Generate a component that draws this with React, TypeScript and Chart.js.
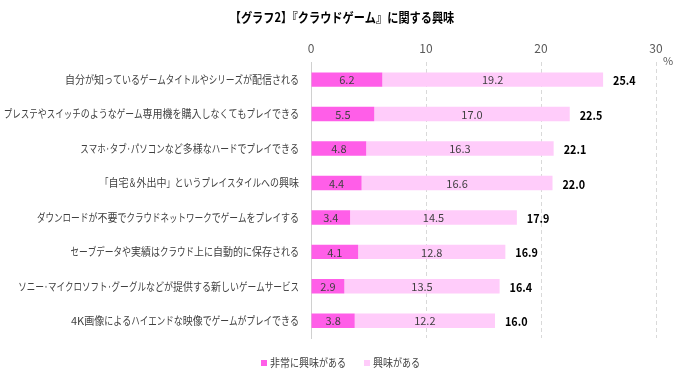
import React, { useEffect, useRef } from "react";
import { Chart, registerables } from "chart.js";

Chart.register(...registerables);

const title = "【グラフ2】『クラウドゲーム』に関する興味";
const categories = [
  "自分が知っているゲームタイトルやシリーズが配信される",
  "プレステやスイッチのようなゲーム専用機を購入しなくてもプレイできる",
  "スマホ・タブ・パソコンなど多様なハードでプレイできる",
  "「自宅＆外出中」というプレイスタイルへの興味",
  "ダウンロードが不要でクラウドネットワークでゲームをプレイする",
  "セーブデータや実績はクラウド上に自動的に保存される",
  "ソニー・マイクロソフト・グーグルなどが提供する新しいゲームサービス",
  "4K画像によるハイエンドな映像でゲームがプレイできる",
];
const veryInterested = [6.2, 5.5, 4.8, 4.4, 3.4, 4.1, 2.9, 3.8];
const interested = [19.2, 17.0, 16.3, 16.6, 14.5, 12.8, 13.5, 12.2];
const totals = ["25.4", "22.5", "22.1", "22.0", "17.9", "16.9", "16.4", "16.0"];
const seriesNames = ["非常に興味がある", "興味がある"];
const xTicks = [0, 10, 20, 30];

const DARK = "#ff5ee8";
const LIGHT = "#ffccfa";
const FONT = "'Noto Sans CJK JP', 'Noto Sans', sans-serif";

// Approximate a narrow proportional Japanese UI font by compressing glyphs per class
function classWidth(ch: string, size: number): number | null {
  const s = size / 11;
  const code = ch.codePointAt(0) || 0;
  if (ch === "ー") return 8.8 * s;
  if (ch === "・") return 4 * s;
  if ("「」『』【】＆".includes(ch)) return 8 * s;
  if (code >= 0x3040 && code <= 0x309f) return 9 * s;
  if (code >= 0x30a0 && code <= 0x30ff) return 8.5 * s;
  if (code >= 0x4e00 && code <= 0x9fff) return 10 * s;
  return null;
}

function drawCondensed(ctx: CanvasRenderingContext2D, text: string, x: number, y: number, align: "left" | "right" | "center", size: number) {
  const chars = Array.from(text);
  const widths = chars.map((ch) => {
    const natural = ctx.measureText(ch).width;
    const cw = classWidth(ch, size);
    return cw == null ? natural : Math.min(cw, natural);
  });
  const total = widths.reduce((a, b) => a + b, 0);
  let cx = align === "right" ? x - total : align === "center" ? x - total / 2 : x;
  ctx.textAlign = "left";
  chars.forEach((ch, i) => {
    ctx.fillText(ch, cx, y, widths[i]);
    cx += widths[i];
  });
}

const textPlugin = {
  id: "customTexts",
  afterDraw(chart: any) {
    const { ctx, chartArea } = chart;
    const xs = chart.scales.x;
    const ys = chart.scales.y;
    const m0 = chart.getDatasetMeta(0);
    const m1 = chart.getDatasetMeta(1);
    ctx.save();
    ctx.textBaseline = "middle";

    // title
    ctx.font = `bold 13px ${FONT}`;
    ctx.fillStyle = "#000";
    ctx.textAlign = "center";
    const tw = ctx.measureText(title).width;
    ctx.fillText(title, 342, 17, tw * 0.86);

    // percent sign
    ctx.font = `11px ${FONT}`;
    ctx.fillStyle = "#595959";
    ctx.textAlign = "left";
    ctx.fillText("%", chartArea.right + 7, 61);

    categories.forEach((cat, i) => {
      const y = ys.getPixelForValue(i);
      // category label
      ctx.font = `11px ${FONT}`;
      ctx.fillStyle = "#404040";
      drawCondensed(ctx, cat, chartArea.left - 12, y, "right", 11);

      // values inside
      ctx.textAlign = "center";
      ctx.fillStyle = "#404040";
      const b0: any = m0.data[i];
      const b1: any = m1.data[i];
      ctx.fillText(veryInterested[i].toFixed(1), (b0.x + b0.base) / 2, y + 0.5);
      ctx.fillText(interested[i].toFixed(1), (b1.x + b1.base) / 2, y + 0.5);

      // total
      ctx.font = `bold 12px ${FONT}`;
      ctx.fillStyle = "#000";
      ctx.textAlign = "left";
      const endX = xs.getPixelForValue(veryInterested[i] + interested[i]);
      const t = totals[i];
      ctx.fillText(t, endX + 10, y + 1, ctx.measureText(t).width * 0.9);
    });

    // legend
    const legendY = 363;
    const items = [
      { name: seriesNames[0], color: DARK, x: 261 },
      { name: seriesNames[1], color: LIGHT, x: 364 },
    ];
    ctx.font = `11px ${FONT}`;
    items.forEach((it) => {
      ctx.fillStyle = it.color;
      ctx.fillRect(it.x, legendY - 3, 6, 6);
      ctx.fillStyle = "#404040";
      drawCondensed(ctx, it.name, it.x + 9, legendY, "left", 11);
    });
    ctx.restore();
  },
};

export default function App() {
  const ref = useRef<HTMLCanvasElement | null>(null);
  useEffect(() => {
    if (!ref.current) return;
    const chart = new Chart(ref.current, {
      type: "bar",
      data: {
        labels: categories,
        datasets: [
          {
            label: seriesNames[0],
            data: veryInterested,
            backgroundColor: DARK,
            barPercentage: 0.42,
            categoryPercentage: 1,
          },
          {
            label: seriesNames[1],
            data: interested,
            backgroundColor: LIGHT,
            barPercentage: 0.42,
            categoryPercentage: 1,
          },
        ],
      },
      options: {
        indexAxis: "y",
        animation: false,
        responsive: false,
        devicePixelRatio: 1,
        layout: { padding: { top: 34, right: 24, bottom: 46, left: 0 } },
        plugins: {
          legend: { display: false },
          title: { display: false },
          tooltip: { enabled: false },
        },
        scales: {
          x: {
            position: "top",
            stacked: true,
            min: 0,
            max: 30,
            afterBuildTicks: (scale: any) => {
              scale.ticks = xTicks.map((v) => ({ value: v }));
            },
            ticks: {
              font: { family: FONT, size: 12 },
              color: "#595959",
              padding: 7,
            },
            grid: {
              color: "#d9d9d9",
              lineWidth: 1,
              drawTicks: false,
            },
            border: { display: false, dash: [4, 3] },
          },
          y: {
            stacked: true,
            afterFit: (scale: any) => {
              scale.width = 311;
            },
            ticks: { display: false },
            grid: { display: false, drawTicks: false },
            border: { display: true, color: "#d0d0d0", width: 1 },
          },
        },
      },
      plugins: [textPlugin],
    } as any);
    return () => chart.destroy();
  }, []);
  return (
    <div style={{ position: "absolute", left: 0, top: 0, width: 680, height: 384, background: "#fff" }}>
      <canvas ref={ref} width={680} height={384} style={{ width: 680, height: 384 }} />
    </div>
  );
}
